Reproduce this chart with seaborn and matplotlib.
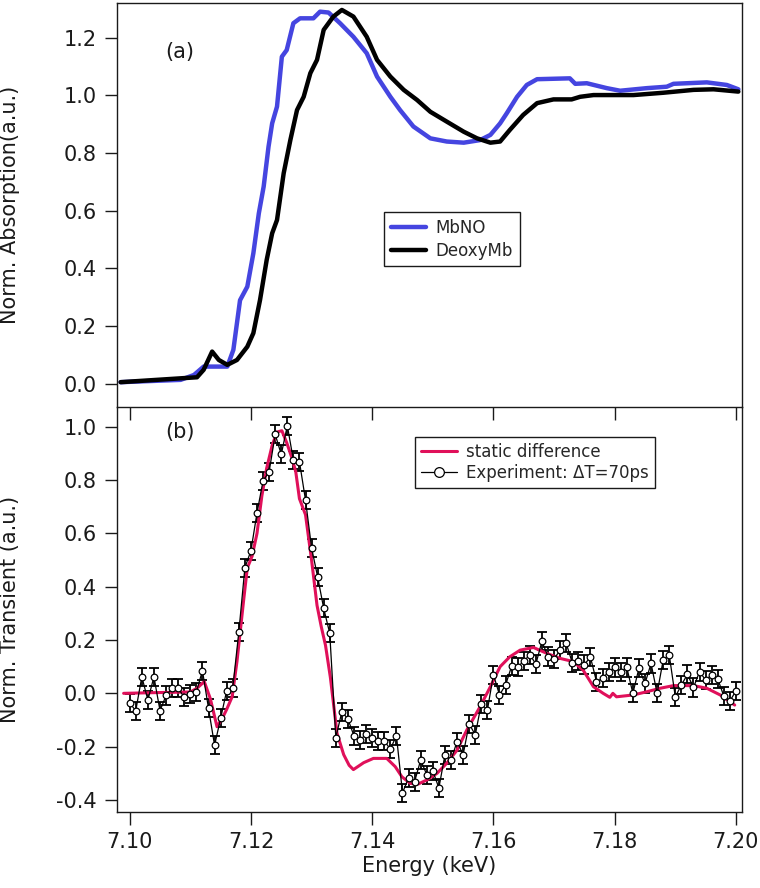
import numpy as np
import pandas as pd
import matplotlib
matplotlib.use("Agg")
import matplotlib.pyplot as plt
import seaborn as sns
from matplotlib.lines import Line2D
from matplotlib.ticker import FormatStrFormatter

# ---------------- data ----------------
mbno_e = [7.0985, 7.1084, 7.1106, 7.1122, 7.1128, 7.1161, 7.1171, 7.1182, 7.1194, 7.1204,
          7.1213, 7.1221, 7.1229, 7.1235, 7.1243, 7.1251, 7.1259, 7.1270, 7.1281, 7.1303,
          7.1314, 7.1328, 7.1347, 7.1369, 7.1391, 7.1408, 7.1430, 7.1446, 7.1468, 7.1496,
          7.1523, 7.1551, 7.1578, 7.1595, 7.1611, 7.1622, 7.1639, 7.1655, 7.1672, 7.1726,
          7.1735, 7.1754, 7.1787, 7.1809, 7.1853, 7.1886, 7.1897, 7.1952, 7.1985, 7.2004]
mbno_abs = [0.006, 0.014, 0.031, 0.060, 0.060, 0.060, 0.118, 0.290, 0.337, 0.453,
            0.591, 0.684, 0.822, 0.903, 0.961, 1.134, 1.157, 1.250, 1.267, 1.267,
            1.290, 1.287, 1.250, 1.203, 1.146, 1.065, 0.995, 0.949, 0.892, 0.851,
            0.840, 0.836, 0.845, 0.863, 0.903, 0.938, 0.995, 1.036, 1.056, 1.059,
            1.040, 1.042, 1.025, 1.016, 1.025, 1.030, 1.040, 1.045, 1.036, 1.021]

deoxy_e = [7.0985, 7.1111, 7.1122, 7.1136, 7.1147, 7.1161, 7.1177, 7.1194, 7.1204, 7.1215,
           7.1226, 7.1235, 7.1243, 7.1254, 7.1265, 7.1276, 7.1287, 7.1298, 7.1309, 7.1320,
           7.1336, 7.1350, 7.1369, 7.1391, 7.1408, 7.1430, 7.1452, 7.1474, 7.1496, 7.1523,
           7.1551, 7.1573, 7.1595, 7.1611, 7.1627, 7.1649, 7.1672, 7.1699, 7.1729, 7.1743,
           7.1765, 7.1831, 7.1880, 7.1930, 7.1963, 7.2004]
deoxy_abs = [0.006, 0.023, 0.049, 0.112, 0.083, 0.066, 0.083, 0.129, 0.176, 0.291,
             0.430, 0.522, 0.568, 0.730, 0.845, 0.949, 0.995, 1.077, 1.123, 1.227,
             1.273, 1.296, 1.273, 1.203, 1.123, 1.065, 1.019, 0.984, 0.943, 0.909,
             0.874, 0.851, 0.836, 0.840, 0.880, 0.932, 0.973, 0.986, 0.986, 0.995,
             1.001, 1.001, 1.009, 1.019, 1.021, 1.013]

static_e = [7.0990, 7.1050, 7.1100, 7.1111, 7.1123, 7.1133, 7.1144, 7.1154, 7.1160, 7.1169,
            7.1177, 7.1188, 7.1194, 7.1202, 7.1210, 7.1218, 7.1226, 7.1235, 7.1243, 7.1251,
            7.1259, 7.1268, 7.1274, 7.1280, 7.1290, 7.1300, 7.1309, 7.1316, 7.1323, 7.1331,
            7.1342, 7.1353, 7.1362, 7.1369, 7.1386, 7.1402, 7.1413, 7.1424, 7.1438, 7.1449,
            7.1463, 7.1476, 7.1490, 7.1507, 7.1523, 7.1540, 7.1556, 7.1578, 7.1595, 7.1611,
            7.1627, 7.1644, 7.1666, 7.1688, 7.1710, 7.1732, 7.1748, 7.1765, 7.1781, 7.1792,
            7.1797, 7.1803, 7.1831, 7.1853, 7.1875, 7.1897, 7.1930, 7.1952, 7.1974, 7.1998]
static_diff = [0.000, 0.003, 0.005, 0.019, 0.044, -0.020, -0.125, -0.088, -0.060, -0.013,
               0.120, 0.350, 0.470, 0.515, 0.600, 0.740, 0.845, 0.930, 0.980, 0.985,
               0.940, 0.880, 0.830, 0.730, 0.670, 0.500, 0.330, 0.250, 0.180, 0.060,
               -0.150, -0.230, -0.270, -0.286, -0.260, -0.244, -0.244, -0.244, -0.275, -0.313,
               -0.338, -0.340, -0.325, -0.300, -0.262, -0.213, -0.138, -0.050, 0.025, 0.100,
               0.137, 0.162, 0.172, 0.150, 0.131, 0.119, 0.087, 0.025, 0.000, -0.015,
               0.000, -0.013, -0.006, 0.006, 0.019, 0.029, 0.029, 0.019, -0.006, -0.044]

# experiment sampled on a 1 eV grid from 7.100 to 7.200 keV
exp_e = np.linspace(7.100, 7.200, 101)
exp_y = [-0.037, -0.065, 0.062, -0.025, 0.062, -0.065, -0.008, 0.019, 0.019, -0.015,
         -0.003, 0.006, 0.085, -0.056, -0.195, -0.094, 0.010, 0.020, 0.230, 0.471,
         0.535, 0.677, 0.797, 0.831, 0.971, 0.896, 1.004, 0.875, 0.869, 0.725,
         0.546, 0.437, 0.319, 0.225, -0.166, -0.069, -0.096, -0.160, -0.175, -0.153,
         -0.166, -0.178, -0.179, -0.209, -0.159, -0.373, -0.317, -0.331, -0.250, -0.305,
         -0.291, -0.355, -0.231, -0.250, -0.181, -0.230, -0.114, -0.156, -0.039, -0.063,
         0.070, -0.006, 0.031, 0.102, 0.100, 0.120, 0.145, 0.110, 0.195, 0.138,
         0.130, 0.161, 0.188, 0.115, 0.122, 0.108, 0.136, 0.044, 0.056, 0.081,
         0.097, 0.081, 0.097, 0.000, 0.094, 0.037, 0.112, 0.000, 0.125, 0.144,
         -0.013, 0.031, 0.071, 0.022, 0.081, 0.050, 0.069, 0.054, -0.010, -0.029,
         0.009]
exp_err = [0.034] * 101

x_ticks = [7.10, 7.12, 7.14, 7.16, 7.18, 7.20]
y_ticks_top = [0.0, 0.2, 0.4, 0.6, 0.8, 1.0, 1.2]
y_ticks_bot = [-0.4, -0.2, 0.0, 0.2, 0.4, 0.6, 0.8, 1.0]

BLUE = "#4545e0"
PINK = "#e0105a"
INK = "#1a1a1a"

# ---------------- style ----------------
sns.set_style("ticks")
plt.rcParams['font.family'] = ['DejaVu Sans']
plt.rcParams['axes.unicode_minus'] = False
FS = 15

fig = plt.figure(figsize=(7.6, 8.88), dpi=100)
ax1 = fig.add_axes([0.1539, 0.5420, 0.8224, 0.4546])
ax2 = fig.add_axes([0.1539, 0.0859, 0.8224, 0.4561])
ax2.patch.set_visible(False)
ax1.set_zorder(3)
ax1.patch.set_visible(False)

# top panel
sns.lineplot(x=mbno_e, y=mbno_abs, ax=ax1, color=BLUE, linewidth=3.2,
             estimator=None, sort=False, legend=False)
sns.lineplot(x=deoxy_e, y=deoxy_abs, ax=ax1, color="black", linewidth=3.2,
             estimator=None, sort=False, legend=False)

# bottom panel
ax2.errorbar(exp_e, exp_y, yerr=exp_err, fmt='none', ecolor='black',
             elinewidth=1.3, capsize=3.8, capthick=1.3, zorder=2)
sns.lineplot(x=static_e, y=static_diff, ax=ax2, color=PINK, linewidth=2.2,
             estimator=None, sort=False, legend=False, zorder=3)
sns.lineplot(x=exp_e, y=exp_y, ax=ax2, color="black", linewidth=0.9,
             estimator=None, sort=False, legend=False, zorder=4,
             marker='o', markersize=4.8, markerfacecolor='white',
             markeredgecolor='black', markeredgewidth=0.9)

for ax in (ax1, ax2):
    ax.set_xlim(7.0979, 7.201)
    ax.set_xticks(x_ticks)
    ax.xaxis.set_major_formatter(FormatStrFormatter('%.2f'))
    ax.yaxis.set_major_formatter(FormatStrFormatter('%.1f'))
    ax.tick_params(axis='both', direction='out', length=9, width=1.0,
                   color=INK, labelsize=FS, pad=5.5, labelcolor=INK)
    for s in ax.spines.values():
        s.set_color(INK)
        s.set_linewidth(1.0)
    ax.set_xlabel("")
    ax.set_ylabel("")

ax1.set_ylim(-0.079, 1.32)
ax1.set_yticks(y_ticks_top)
ax1.tick_params(axis='x', labelbottom=False)
ax1.set_ylabel("Norm. Absorption(a.u.)", fontsize=FS, color=INK)
ax1.yaxis.set_label_coords(-0.155, 0.5)

ax2.set_ylim(-0.444, 1.075)
ax2.set_yticks(y_ticks_bot)
ax2.spines['top'].set_visible(False)
ax2.set_ylabel("Norm. Transient (a.u.)", fontsize=FS, color=INK)
ax2.yaxis.set_label_coords(-0.155, 0.5)
ax2.set_xlabel("Energy (keV)", fontsize=FS, color=INK, labelpad=3)

ax1.text(0.101, 0.879, "(a)", transform=ax1.transAxes, fontsize=FS,
         ha='center', va='center', color=INK)
ax2.text(0.101, 0.938, "(b)", transform=ax2.transAxes, fontsize=FS,
         ha='center', va='center', color=INK)

h1 = [Line2D([], [], color=BLUE, lw=3.2), Line2D([], [], color='black', lw=3.2)]
leg1 = ax1.legend(h1, ["MbNO", "DeoxyMb"], loc='upper left',
                  bbox_to_anchor=(0.427, 0.482), frameon=True, fancybox=False,
                  framealpha=1, edgecolor=INK, fontsize=12, handlelength=2.15,
                  handletextpad=0.55, borderpad=0.4, labelspacing=0.3,
                  borderaxespad=0)
leg1.get_frame().set_linewidth(1.0)

h2 = [Line2D([], [], color=PINK, lw=2.2),
      Line2D([], [], color='black', lw=0.9, marker='o', markersize=7,
             markerfacecolor='white', markeredgecolor='black', markeredgewidth=0.9)]
leg2 = ax2.legend(h2, ["static difference", "Experiment: \u0394T=70ps"], loc='upper left',
                  bbox_to_anchor=(0.477, 0.926), frameon=True, fancybox=False,
                  framealpha=1, edgecolor=INK, fontsize=12, handlelength=2.15,
                  handletextpad=0.55, borderpad=0.35, labelspacing=0.2,
                  borderaxespad=0)
leg2.get_frame().set_linewidth(1.0)

fig.savefig("out.png", dpi=100, facecolor='white')
